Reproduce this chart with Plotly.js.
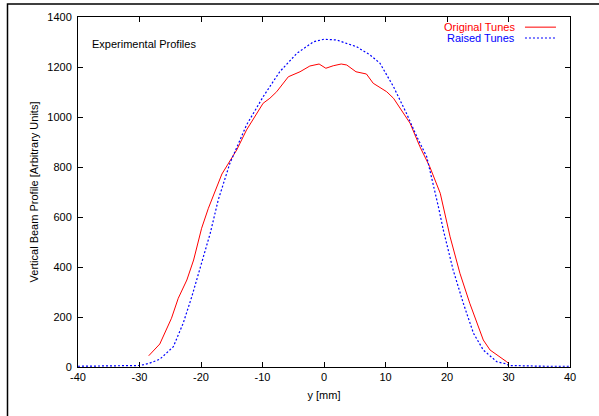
<!DOCTYPE html>
<html>
<head>
<meta charset="utf-8">
<script src="https://cdn.plot.ly/plotly-3.0.1.min.js"></script>
<style>
html,body{margin:0;padding:0;background:#fff;}
#chart{width:599px;height:416px;}
</style>
</head>
<body>
<div id="chart"></div>
<script>
// Original Tunes (red, solid)
const origX = [-28.5,-26.7,-24.8,-23.7,-22.3,-21.2,-19.9,-18.8,-16.6,-14.2,-12.6,-9.9,-8.8,-7.7,-5.8,-3.9,-2.3,-0.8,0.3,1.5,2.8,3.7,5.2,6.9,8.0,10.2,11.3,14.0,15.6,17.2,18.9,20.5,22.1,23.7,25.9,27.0,29.7,30.0];
const origY = [45,92,195,275,348,428,555,635,772,868,948,1055,1075,1101,1161,1181,1204,1212,1195,1205,1212,1208,1181,1172,1135,1101,1075,975,881,801,695,521,375,255,108,68,21,15];
// Raised Tunes (blue, dotted)
const raisedX = [-40,-38,-36,-34,-32,-30,-28.5,-26.7,-24.5,-22.9,-21.5,-20.2,-18.5,-17.2,-15.3,-12.6,-9.9,-7.2,-4.4,-1.7,0,2.05,5.3,7.5,9.1,11.3,13.4,15.1,16.7,18.6,19.4,21.0,22.65,24.3,25.9,28.1,29.7,30,32,34,36,38,40];
const raisedY = [3,3,3,3,4,6,14,31,81,175,281,388,535,668,815,968,1081,1181,1255,1301,1311,1308,1281,1248,1215,1121,1015,921,841,641,548,388,255,135,68,21,12,6,4,3,3,3,3];
const xTicks = [-40,-30,-20,-10,0,10,20,30,40];
const yTicks = [0,200,400,600,800,1000,1200,1400];

const font = {family: 'Liberation Sans, Arial, sans-serif', size: 11, color: '#000'};

const traces = [
  {x: origX, y: origY, mode: 'lines', name: 'Original Tunes',
   line: {color: '#ff0000', width: 1}},
  {x: raisedX, y: raisedY, mode: 'lines', name: 'Raised Tunes',
   line: {color: '#0000ff', width: 1.2, dash: '2px,2px'}}
];

const axisCommon = {
  showline: true, linecolor: '#000', linewidth: 1, mirror: 'ticks',
  ticks: 'inside', ticklen: 5, tickcolor: '#000', tickwidth: 1,
  showgrid: false, zeroline: false, tickfont: font
};

const layout = {
  width: 599, height: 416,
  margin: {l: 78, r: 29, t: 17, b: 49, pad: 0},
  paper_bgcolor: '#fff', plot_bgcolor: '#fff',
  font: font,
  showlegend: false,
  xaxis: Object.assign({}, axisCommon, {
    range: [-40, 40], tickvals: xTicks, ticktext: xTicks.map(String),
    title: {text: 'y [mm]', font: font, standoff: 9}
  }),
  yaxis: Object.assign({}, axisCommon, {
    range: [0, 1400], tickvals: yTicks, ticktext: yTicks.map(String),
    ticklabelstandoff: 3,
    title: {text: 'Vertical Beam Profile [Arbitrary Units]', font: font, standoff: 6}
  }),
  annotations: [
    {xref: 'paper', yref: 'paper', x: 0.0244, y: 0.923, xanchor: 'left', yanchor: 'middle',
     text: 'Experimental Profiles', showarrow: false, font: font},
    {xref: 'paper', yref: 'paper', x: 0.892, y: 0.971, xanchor: 'right', yanchor: 'middle',
     text: 'Original Tunes', showarrow: false, font: Object.assign({}, font, {color: '#ff0000'})},
    {xref: 'paper', yref: 'paper', x: 0.892, y: 0.94, xanchor: 'right', yanchor: 'middle',
     text: 'Raised Tunes', showarrow: false, font: Object.assign({}, font, {color: '#0000ff'})}
  ],
  shapes: [
    {type: 'line', xref: 'paper', yref: 'paper', x0: 0.9085, x1: 0.9715, y0: 0.971, y1: 0.971,
     line: {color: '#ff0000', width: 1}},
    {type: 'line', xref: 'paper', yref: 'paper', x0: 0.9085, x1: 0.9715, y0: 0.94, y1: 0.94,
     line: {color: '#0000ff', width: 1.2, dash: '2px,2px'}},
    {type: 'rect', xref: 'paper', yref: 'paper', x0: -0.1433, x1: 1.2, y0: -0.3, y1: 1.0371,
     line: {color: '#000', width: 1.5}, fillcolor: 'rgba(0,0,0,0)', layer: 'below'}
  ]
};

Plotly.newPlot('chart', traces, layout, {displayModeBar: false, staticPlot: true});
</script>
</body>
</html>
